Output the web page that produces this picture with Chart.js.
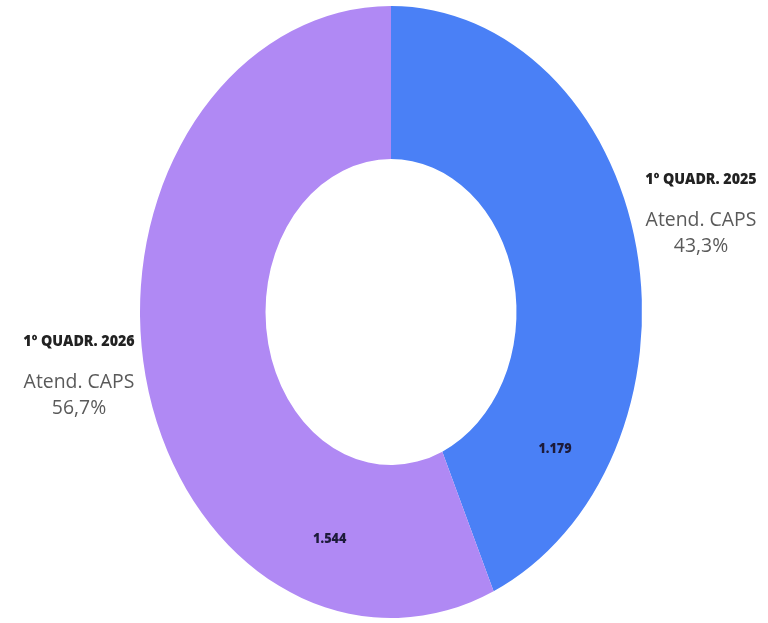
<!DOCTYPE html>
<html lang="pt-BR">
<head>
    <meta charset="UTF-8">
    <title>Atend. CAPS</title>
    <script src="https://cdn.jsdelivr.net/npm/chart.js"></script>
    <style>
        html, body { margin: 0; padding: 0; background: #fff; }
        canvas { display: block; }
    </style>
</head>
<body>
    <canvas id="capsChart" width="768" height="623"></canvas>
    <script>
        // dados
        const categories = ['1º QUADR. 2025', '1º QUADR. 2026'];
        const seriesName = 'Atend. CAPS';
        const atendimentos = [1179, 1544];
        const valueLabels = ['1.179', '1.544'];
        const percentLabels = ['43,3%', '56,7%'];
        const colors = ['#4a80f6', '#b089f4'];

        const STRETCH_X = 251 / 306; // the doughnut is drawn as an ellipse

        // squash the rings horizontally around the center
        const ellipsePlugin = {
            id: 'ellipse',
            beforeDatasetsDraw(chart) {
                const arc = chart.getDatasetMeta(0).data[0];
                const ctx = chart.ctx;
                ctx.save();
                ctx.translate(arc.x, arc.y);
                ctx.scale(STRETCH_X, 1);
                ctx.translate(-arc.x, -arc.y);
            },
            afterDatasetsDraw(chart) {
                chart.ctx.restore();
            }
        };

        function condensedText(ctx, text, x, y, font, color, squeeze) {
            ctx.save();
            ctx.translate(x, y);
            ctx.scale(squeeze, 1);
            ctx.font = font;
            ctx.fillStyle = color;
            ctx.textAlign = 'center';
            ctx.textBaseline = 'middle';
            ctx.fillText(text, 0, 0);
            ctx.restore();
        }

        // values inside the slices + side captions
        const labelPlugin = {
            id: 'labels',
            afterDraw(chart) {
                const ctx = chart.ctx;
                const arcs = chart.getDatasetMeta(0).data;
                const spots = [0.8, 0.21];
                arcs.forEach((arc, i) => {
                    const p = arc.getProps(['x', 'y', 'startAngle', 'endAngle', 'innerRadius', 'outerRadius']);
                    const a = p.startAngle + spots[i] * (p.endAngle - p.startAngle);
                    const r = p.innerRadius + 0.57 * (p.outerRadius - p.innerRadius);
                    const x = p.x + Math.cos(a) * r * STRETCH_X;
                    const y = p.y + Math.sin(a) * r;
                    condensedText(ctx, valueLabels[i], x + 2, y, '800 14px "Open Sans"', '#1d1b3a', 0.9);
                });

                const c = arcs[0];
                const sides = [
                    { x: c.x + 310, y: c.y - 132 },
                    { x: c.x - 312, y: c.y + 30 }
                ];
                sides.forEach((s, i) => {
                    condensedText(ctx, categories[i], s.x, s.y, '800 15px "Open Sans"', '#222', 0.95);
                    condensedText(ctx, seriesName, s.x, s.y + 40, '20px "Open Sans"', '#5a5a5a', 0.97);
                    condensedText(ctx, percentLabels[i], s.x, s.y + 66, '20px "Open Sans"', '#5a5a5a', 0.97);
                });
            }
        };

        new Chart(document.getElementById('capsChart'), {
            type: 'doughnut',
            data: {
                labels: categories,
                datasets: [{
                    label: seriesName,
                    data: atendimentos,
                    backgroundColor: colors,
                    borderWidth: 0
                }]
            },
            options: {
                responsive: false,
                animation: false,
                cutout: '50%',
                layout: { padding: { left: 85, right: 71, top: 6, bottom: 5 } },
                plugins: {
                    legend: { display: false },
                    tooltip: { enabled: false }
                }
            },
            plugins: [ellipsePlugin, labelPlugin]
        });
    </script>
</body>
</html>
